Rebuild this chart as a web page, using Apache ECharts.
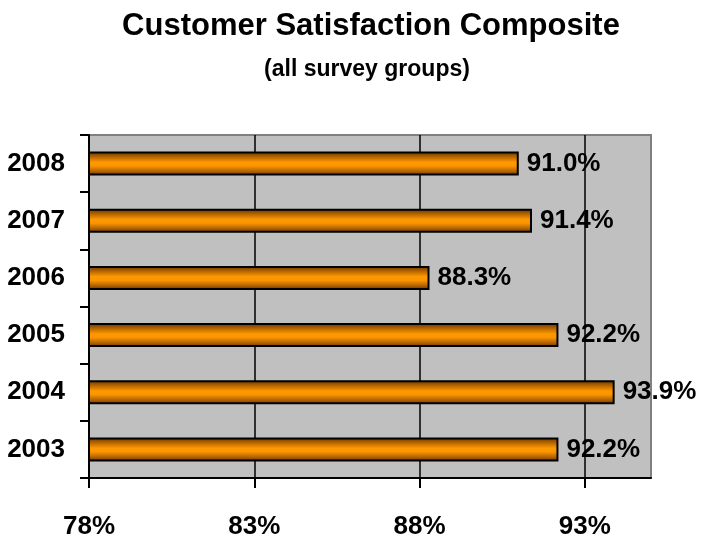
<!DOCTYPE html>
<html>
<head>
<meta charset="utf-8">
<title>Customer Satisfaction Composite</title>
<script src="https://cdn.jsdelivr.net/npm/echarts@6/dist/echarts.min.js"></script>
<style>
  html, body { margin: 0; padding: 0; background: #ffffff; }
  #chart { width: 701px; height: 540px; }
</style>
</head>
<body>
<div id="chart"></div>
<script>
// Survey years, bottom to top on the category axis
const years = ['2003', '2004', '2005', '2006', '2007', '2008'];
// Composite satisfaction score (%) per year
const scores = [92.2, 93.9, 92.2, 88.3, 91.4, 91.0];
// Value axis range and step (%)
const axisMin = 78;
const axisMax = 95;
const axisStep = 5;

const FONT = '"Liberation Sans", Arial, Helvetica, sans-serif';

const barFill = new echarts.graphic.LinearGradient(0, 0, 0, 1, [
  { offset: 0, color: '#5e3200' },
  { offset: 0.18, color: '#a85c00' },
  { offset: 0.45, color: '#ff9900' },
  { offset: 0.6, color: '#fb9500' },
  { offset: 0.85, color: '#a85c00' },
  { offset: 1, color: '#5a3000' }
]);

const chart = echarts.init(document.getElementById('chart'), null, { renderer: 'canvas' });

chart.setOption({
  animation: false,
  backgroundColor: '#ffffff',
  title: [
    {
      text: 'Customer Satisfaction Composite',
      left: 366,
      top: 6,
      textAlign: 'center',
      textStyle: { fontFamily: FONT, fontWeight: 'bold', fontSize: 31, color: '#000' }
    },
    {
      text: '(all survey groups)',
      left: 362,
      top: 53,
      textAlign: 'center',
      textStyle: { fontFamily: FONT, fontWeight: 'bold', fontSize: 23, color: '#000' }
    }
  ],
  grid: {
    left: 89,
    right: 50,
    top: 135,
    bottom: 61,
    show: true,
    backgroundColor: '#c0c0c0',
    borderColor: '#808080',
    borderWidth: 2
  },
  xAxis: {
    type: 'value',
    min: axisMin,
    max: axisMax,
    interval: axisStep,
    axisLine: { show: true, lineStyle: { color: '#000', width: 2 } },
    axisTick: { show: true, inside: false, length: 10, lineStyle: { color: '#000', width: 2 } },
    splitLine: { show: true, showMaxLine: false, lineStyle: { color: '#000', width: 1.5 } },
    axisLabel: {
      showMaxLabel: false,
      margin: 36,
      formatter: v => (v === axisMax ? '' : v + '%'),
      fontFamily: FONT,
      fontWeight: 'bold',
      fontSize: 26,
      color: '#000'
    }
  },
  yAxis: {
    type: 'category',
    data: years,
    axisLine: { show: true, lineStyle: { color: '#000', width: 2 } },
    axisTick: { show: true, inside: false, length: 9, lineStyle: { color: '#000', width: 2 } },
    splitLine: { show: false },
    axisLabel: {
      margin: 24,
      fontFamily: FONT,
      fontWeight: 'bold',
      fontSize: 26,
      color: '#000'
    }
  },
  series: [
    {
      type: 'bar',
      data: scores,
      barCategoryGap: '58%',
      itemStyle: { color: barFill, borderColor: '#000', borderWidth: 2 },
      label: {
        show: true,
        position: 'right',
        distance: 8,
        formatter: p => p.value.toFixed(1) + '%',
        fontFamily: FONT,
        fontWeight: 'bold',
        fontSize: 26,
        color: '#000'
      }
    }
  ]
});
</script>
</body>
</html>
